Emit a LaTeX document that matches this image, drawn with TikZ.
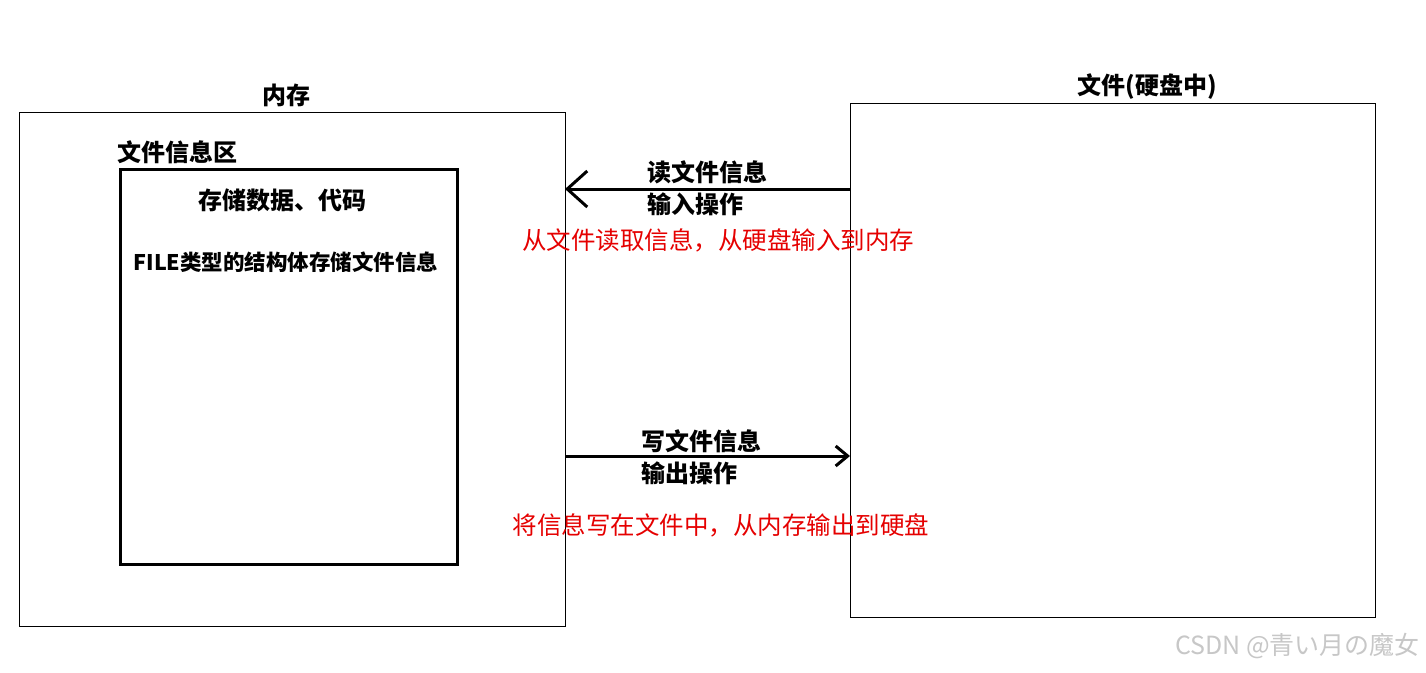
\documentclass[tikz,border=0pt]{standalone}
\usepackage{fontspec}
\newfontfamily\cjk{Noto Sans CJK SC}
\usetikzlibrary{arrows.meta}
\begin{document}
\begin{tikzpicture}[x=1pt,y=-1pt,
  thinbox/.style={draw=black,line width=1pt},
  thickbox/.style={draw=black,line width=3pt},
  lbl/.style={font=\cjk\bfseries\fontsize{24}{26}\selectfont,inner sep=0pt},
  redlbl/.style={font=\cjk\fontsize{24.5}{26}\selectfont,text=red!90!black,inner sep=0pt},
  flow/.style={line width=3pt}]
\useasboundingbox (0,0) rectangle (1426,672);
% boxes
\draw[thinbox] (19,112) rectangle (565,626);
\coordinate (memR1) at (565,189);
\coordinate (memR2) at (565,456);
\draw[thickbox] (120,169) rectangle (457,564);
\draw[thinbox] (850,103) rectangle (1375,617);
\coordinate (fileL1) at (850,189);
\coordinate (fileL2) at (850,456);
% titles
\node[lbl] (mem) at (286,95) {内存};
\node[lbl] (file) at (1147,87) {文件(硬盘中)};
\node[lbl,anchor=west] (area) at (117,152) {文件信息区};
\node[lbl] (store) at (282,200) {存储数据、代码};
\node[font=\cjk\bfseries\fontsize{21.5}{23}\selectfont,inner sep=0pt] (fst) at (286,262) {FILE类型的结构体存储文件信息};
% arrows
\draw[flow,-{Straight Barb[length=20pt,width=36pt,line width=3pt]}] (fileL1) -- (memR1);
\draw[flow,-{Straight Barb[length=12pt,width=20pt,line width=3pt]}] (memR2) -- (fileL2);
% arrow labels
\node[lbl,anchor=west] (rd) at (647,172) {读文件信息};
\node[lbl,anchor=west] (inop) at (647,204) {输入操作};
\node[redlbl] (rdnote) at (718,240) {从文件读取信息，从硬盘输入到内存};
\node[lbl,anchor=west] (wr) at (641,441) {写文件信息};
\node[lbl,anchor=west] (outop) at (641,473) {输出操作};
\node[redlbl] (wrnote) at (721,525) {将信息写在文件中，从内存输出到硬盘};
% watermark
\node[font=\cjk\fontsize{25}{27}\selectfont,text=black!22,inner sep=0pt,anchor=east] (wm) at (1420,646) {CSDN @青い月の魔女};
\end{tikzpicture}
\end{document}
